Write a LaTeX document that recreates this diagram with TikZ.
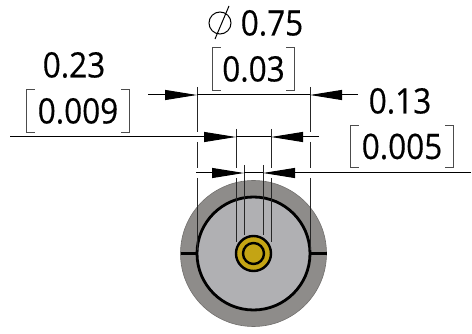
\documentclass[tikz,border=0pt]{standalone}
\usepackage{fontspec}
\setmainfont[FakeStretch=0.9,FakeBold=0.4]{Open Sans}
\usetikzlibrary{arrows.meta}
\definecolor{shellgray}{HTML}{8E8C8A}
\definecolor{bodygray}{HTML}{B0B0B3}
\definecolor{pingold}{HTML}{C4A414}
\tikzset{
	dimline/.style={line width=1pt},
	dimtip/.style={dimline, -{Triangle[length=32pt,width=10pt]}},
	extline/.style={line width=1pt, draw=black!85},
	dimtext/.style={font=\fontsize{35}{35}\selectfont, inner sep=0pt},
	brbox/.style={inner sep=0pt, minimum height=42pt},
	brline/.style={line width=1pt, draw=black!70},
	heavy/.style={line width=2.8pt}
}
\newcommand{\brackets}[1]{
	\draw[brline] ([xshift=8pt]#1.north west) -- (#1.north west) -- (#1.south west) -- ([xshift=8pt]#1.south west);
	\draw[brline] ([xshift=-8pt]#1.north east) -- (#1.north east) -- (#1.south east) -- ([xshift=-8pt]#1.south east);
}
\begin{document}
\begin{tikzpicture}[x=1pt,y=-1pt]
		\useasboundingbox (0,0) rectangle (472,334);
		% connector body
		\draw[fill=shellgray, draw=shellgray!80!black, line width=0.6pt] (253.5,253.5) circle [radius=73];
		\draw[heavy, fill=bodygray] (253.5,253.5) circle [radius=56.5];
		\draw[heavy] (180.5,253.5) -- (197,253.5);
		\draw[heavy] (310,253.5) -- (326.5,253.5);
		% centre pin
		\draw[line width=2.4pt, fill=pingold] (253.5,253.5) circle [radius=17.5];
		\draw[line width=2.4pt] (253.5,253.5) circle [radius=10.5];
		% extension lines
		\foreach \xpos in {197,310} {
			\draw[extline] (\xpos,87) -- (\xpos,132);
			\draw[extline] (\xpos,142) -- (\xpos,168);
			\draw[extline] (\xpos,178) -- (\xpos,250);
		}
		\foreach \xpos in {236,271} {
			\draw[extline] (\xpos,129) -- (\xpos,168);
			\draw[extline] (\xpos,178) -- (\xpos,242);
		}
		\foreach \xpos in {244,263} {
			\draw[extline] (\xpos,165) -- (\xpos,235);
		}
		% dimension lines
		\coordinate (outerL) at (197,95);
		\coordinate (outerR) at (310,95);
		\coordinate (outerLfree) at (148,95);
		\coordinate (outerRfree) at (358,95);
		\draw[dimline] (outerL) -- (outerR);
		\draw[dimtip] (outerLfree) -- (outerL);
		\draw[dimtip] (outerRfree) -- (outerR);
		\coordinate (holeL) at (236,137);
		\coordinate (holeR) at (271,137);
		\coordinate (holeLfree) at (10,137);
		\coordinate (holeRfree) at (319,137);
		\draw[dimline] (holeL) -- (holeR);
		\draw[dimtip] (holeLfree) -- (holeL);
		\draw[dimtip] (holeRfree) -- (holeR);
		\coordinate (pinL) at (244,173);
		\coordinate (pinR) at (263,173);
		\coordinate (pinLfree) at (196,173);
		\coordinate (pinRfree) at (471,173);
		\draw[dimline] (pinL) -- (pinR);
		\draw[dimtip] (pinLfree) -- (pinL);
		\draw[dimtip] (pinRfree) -- (pinR);
		% labels
		\node[dimtext] (dia) at (272,23) {0.75};
		\draw[line width=1pt] (220,23) circle [radius=11];
		\draw[line width=1pt] (229,6) -- (215,39);
		\node[brbox, minimum width=81pt] (diabr) at (253.5,69) {};
		\node[dimtext] (diatol) at (diabr) {0.03};
		\brackets{diabr}
		\node[dimtext] (wall) at (74,65) {0.23};
		\node[brbox, minimum width=102pt] (wallbr) at (78,111) {};
		\node[dimtext] (walltol) at (wallbr) {0.009};
		\brackets{wallbr}
		\node[dimtext] (gap) at (400,101) {0.13};
		\node[brbox, minimum width=102pt] (gapbr) at (402,146.5) {};
		\node[dimtext] (gaptol) at (gapbr) {0.005};
		\brackets{gapbr}
		\end{tikzpicture}
\end{document}
